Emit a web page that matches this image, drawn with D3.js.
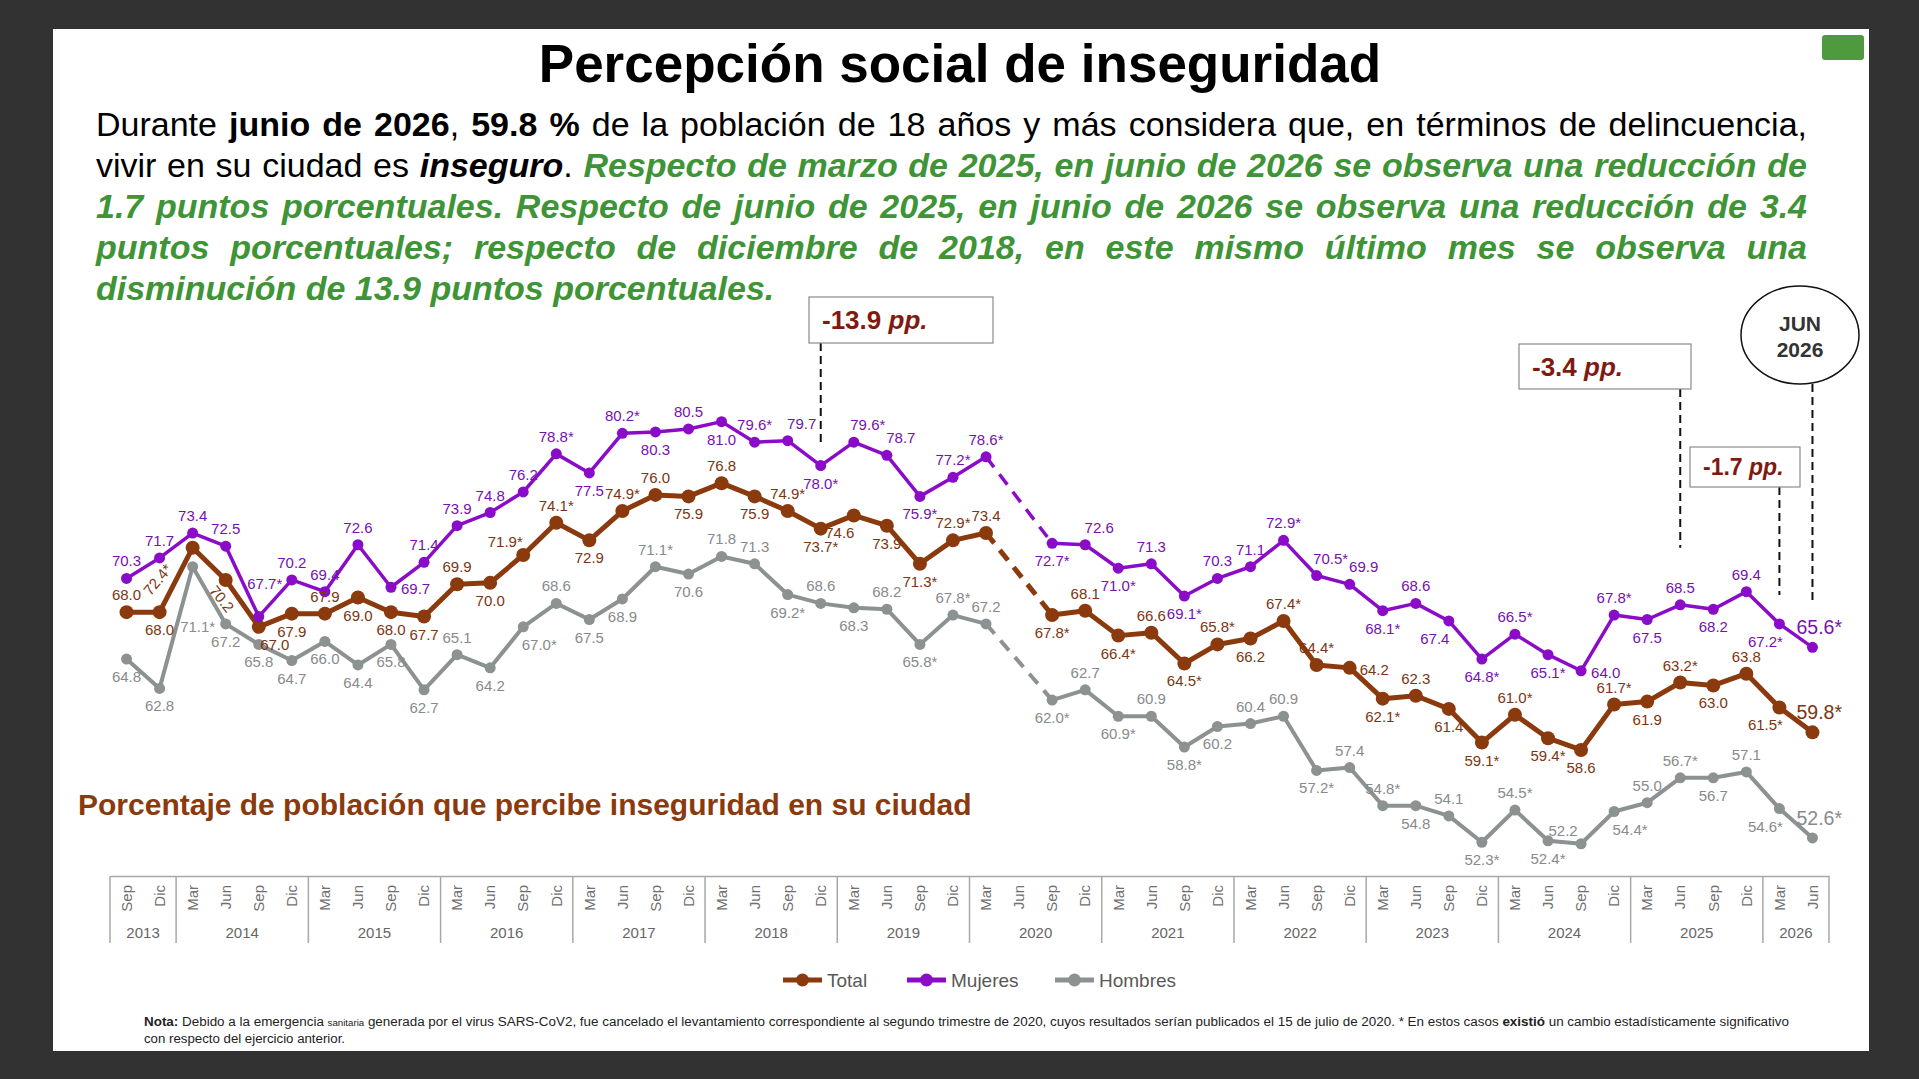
<!DOCTYPE html>
<html lang="es">
<head>
<meta charset="utf-8">
<title>Percepción social de inseguridad</title>
<script src="https://cdn.jsdelivr.net/npm/d3@7"></script>
<style>
  html, body { margin: 0; padding: 0; background: #323232; }
  body { width: 1919px; height: 1079px; position: relative; overflow: hidden; font-family: "Liberation Sans", Arial, sans-serif; }
  #slide { position: absolute; left: 53px; top: 29px; width: 1816px; height: 1022px; background: #fff; }
  #chart { position: absolute; left: 0; top: 0; }
  #intro { position: absolute; left: 96px; top: 104px; width: 1711px; font-size: 34px; line-height: 41px; color: #000; }
  #intro .line { white-space: nowrap; }
  #intro .g { color: #3e9436; font-weight: bold; font-style: italic; }
</style>
</head>
<body>
<div id="slide"></div>
<svg id="chart" width="1919" height="1079"></svg>
<div id="intro">
  <div class="line"><span class="in">Durante <b>junio de 2026</b>, <b>59.8 %</b> de la población de 18 años y más considera que, en términos de delincuencia,</span></div>
  <div class="line"><span class="in">vivir en su ciudad es <b><i>inseguro</i></b>. <span class="g">Respecto de marzo de 2025, en junio de 2026 se observa una reducción de</span></span></div>
  <div class="line"><span class="in g">1.7 puntos porcentuales. Respecto de junio de 2025, en junio de 2026 se observa una reducción de 3.4</span></div>
  <div class="line"><span class="in g">puntos porcentuales; respecto de diciembre de 2018, en este mismo último mes se observa una</span></div>
  <div class="line last"><span class="in g">disminución de 13.9 puntos porcentuales.</span></div>
</div>
<script>
// quarters of the survey (Jun 2020 was cancelled -> null values)
const monthNames = ['Mar', 'Jun', 'Sep', 'Dic'];
const years = [2013, 2014, 2015, 2016, 2017, 2018, 2019, 2020, 2021, 2022, 2023, 2024, 2025, 2026];

// percentage of population that feels unsafe in their city
const total = [68.0, 68.0, 72.4, 70.2, 67.0, 67.9, 67.9, 69.0, 68.0, 67.7,
  69.9, 70.0, 71.9, 74.1, 72.9, 74.9, 76.0, 75.9, 76.8, 75.9,
  74.9, 73.7, 74.6, 73.9, 71.3, 72.9, 73.4, null, 67.8, 68.1,
  66.4, 66.6, 64.5, 65.8, 66.2, 67.4, 64.4, 64.2, 62.1, 62.3,
  61.4, 59.1, 61.0, 59.4, 58.6, 61.7, 61.9, 63.2, 63.0, 63.8,
  61.5, 59.8];
const mujeres = [70.3, 71.7, 73.4, 72.5, 67.7, 70.2, 69.4, 72.6, 69.7, 71.4,
  73.9, 74.8, 76.2, 78.8, 77.5, 80.2, 80.3, 80.5, 81.0, 79.6,
  79.7, 78.0, 79.6, 78.7, 75.9, 77.2, 78.6, null, 72.7, 72.6,
  71.0, 71.3, 69.1, 70.3, 71.1, 72.9, 70.5, 69.9, 68.1, 68.6,
  67.4, 64.8, 66.5, 65.1, 64.0, 67.8, 67.5, 68.5, 68.2, 69.4,
  67.2, 65.6];
const hombres = [64.8, 62.8, 71.1, 67.2, 65.8, 64.7, 66.0, 64.4, 65.8, 62.7,
  65.1, 64.2, 67.0, 68.6, 67.5, 68.9, 71.1, 70.6, 71.8, 71.3,
  69.2, 68.6, 68.3, 68.2, 65.8, 67.8, 67.2, null, 62.0, 62.7,
  60.9, 60.9, 58.8, 60.2, 60.4, 60.9, 57.2, 57.4, 54.8, 54.8,
  54.1, 52.3, 54.5, 52.4, 52.2, 54.4, 55.0, 56.7, 56.7, 57.1,
  54.6, 52.6];

// quarters (by index) with a statistically significant change (*)
const totalStar = [2, 12, 13, 15, 20, 21, 24, 25, 28, 30, 32, 33, 35, 36, 38, 41, 42, 43, 45, 47, 50, 51];
const mujeresStar = [4, 13, 15, 19, 21, 22, 24, 25, 26, 28, 30, 32, 35, 36, 38, 41, 42, 43, 45, 50, 51];
const hombresStar = [2, 12, 16, 20, 24, 25, 28, 30, 32, 36, 38, 41, 42, 43, 45, 47, 50, 51];

// where each value label sits (see offsets below)
const totalPos = ('udABeduddd' + 'udyuduudud' + 'udwdduu-du' + 'dududuurdu' + 'dduddududu' + 'wF').split('');
const mujeresPos = ('uuuuUuuuru' + 'uuuudududu' + 'vdvvduu-dv' + 'duduuuvvdu' + 'wdudrududu' + 'wF').split('');
const hombresPos = ('ddDddddddd' + 'udeudduduu' + 'dududuu-du' + 'dudduuduud' + 'ududyeuudu' + 'wF').split('');

// callouts: change in pp. vs a past quarter
const callouts = [
  { text: '-13.9', quarter: 'Dic 2018', box: [809, 297, 184, 46], size: 26, gap: 21 },
  { text: '-3.4', quarter: 'Jun 2025', box: [1519, 344, 172, 45], size: 26, gap: 57 },
  { text: '-1.7', quarter: 'Mar 2026', box: [1690, 447, 110, 40], size: 23, gap: 29 }
];

const font = '"Liberation Sans", Arial, sans-serif';

// build the quarter keys Sep 2013 .. Jun 2026
let quarters = [];
years.forEach(yr => {
  monthNames.forEach((m, i) => {
    if (yr === 2013 && i < 2) return;
    if (yr === 2026 && i > 1) return;
    quarters.push(m + ' ' + yr);
  });
});

const svg = d3.select('#chart');

// little green tab in the corner of the slide
svg.append('rect')
  .attr('x', 1822).attr('y', 35).attr('width', 42).attr('height', 25)
  .attr('rx', 3).attr('fill', '#4f9a3f');

// title
svg.append('text')
  .attr('x', 960).attr('y', 82)
  .attr('text-anchor', 'middle')
  .attr('font-family', font)
  .attr('font-weight', 'bold')
  .attr('font-size', 53)
  .attr('fill', '#000')
  .text('Percepción social de inseguridad');

// scales
const x = d3.scaleBand()
  .domain(quarters)
  .range([110, 1829]);
const y = d3.scaleLinear()
  .domain([50, 85])
  .range([876, 363]);
const cx = k => x(k) + x.bandwidth() / 2;

// x axis (months rotated)
const xAxis = d3.axisBottom(x)
  .tickSize(0)
  .tickSizeOuter(0)
  .tickFormat(k => k.split(' ')[0]);

const gx = svg.append('g')
  .attr('class', 'xAxis')
  .attr('transform', 'translate(0, 876)')
  .call(xAxis);
gx.select('.domain').attr('stroke', '#a8a8a8').attr('stroke-width', 1.5);
gx.selectAll('text')
  .attr('transform', 'rotate(-90)')
  .attr('x', -9)
  .attr('y', 0)
  .attr('dy', '0.35em')
  .attr('text-anchor', 'end')
  .attr('font-family', font)
  .attr('font-size', 15)
  .attr('fill', '#707070');

// year groups
const yearGroups = years.map(yr => {
  const ks = quarters.filter(q => q.endsWith(String(yr)));
  return { year: yr, x0: x(ks[0]), x1: x(ks[ks.length - 1]) + x.bandwidth() };
});
const gy = svg.append('g').attr('class', 'years');
gy.selectAll('line')
  .data(yearGroups.map(g => g.x0).concat([x.range()[1]]))
  .enter()
  .append('line')
  .attr('x1', d => d).attr('x2', d => d)
  .attr('y1', 876).attr('y2', 943)
  .attr('stroke', '#a8a8a8').attr('stroke-width', 1.5);
gy.selectAll('text')
  .data(yearGroups)
  .enter()
  .append('text')
  .attr('x', d => (d.x0 + d.x1) / 2)
  .attr('y', 938)
  .attr('text-anchor', 'middle')
  .attr('font-family', font)
  .attr('font-size', 15)
  .attr('fill', '#666')
  .text(d => d.year);

// series
const series = [
  { name: 'Hombres', values: hombres, stars: hombresStar, pos: hombresPos, color: '#8c9191', label: '#878b8b', width: 4, r: 5.5 },
  { name: 'Total', values: total, stars: totalStar, pos: totalPos, color: '#8b3a0e', label: '#7c3511', width: 5, r: 7 },
  { name: 'Mujeres', values: mujeres, stars: mujeresStar, pos: mujeresPos, color: '#8a0cc8', label: '#7710b0', width: 3.5, r: 5.5 }
];

const line = d3.line()
  .defined(d => d.v != null)
  .x(d => cx(d.k))
  .y(d => y(d.v));

series.forEach(s => {
  const pts = quarters.map((k, i) => ({ k: k, v: s.values[i], i: i }));
  const g = svg.append('g').attr('class', 'series');

  g.append('path')
    .datum(pts)
    .attr('d', line)
    .attr('fill', 'none')
    .attr('stroke', s.color)
    .attr('stroke-width', s.width)
    .attr('stroke-linejoin', 'round');

  // dashed bridge over the missing quarter
  const gap = s.values.indexOf(null);
  g.append('path')
    .datum([pts[gap - 1], pts[gap + 1]])
    .attr('d', line)
    .attr('fill', 'none')
    .attr('stroke', s.color)
    .attr('stroke-width', s.width)
    .attr('stroke-dasharray', '13,9');

  g.selectAll('circle')
    .data(pts.filter(d => d.v != null))
    .enter()
    .append('circle')
    .attr('cx', d => cx(d.k))
    .attr('cy', d => y(d.v))
    .attr('r', s.r)
    .attr('fill', s.color);
});

// value labels: u above, U higher, v above-right, y above-left,
// d below, e below-right, w below-left, D far below, r right,
// A/B rotated along the line, F last value
const offsets = {
  u: { dx: 0, dy: -12, anchor: 'middle' },
  U: { dx: 6, dy: -28, anchor: 'middle' },
  v: { dx: 14, dy: -12, anchor: 'middle' },
  y: { dx: -18, dy: -8, anchor: 'middle' },
  d: { dx: 0, dy: 23, anchor: 'middle' },
  e: { dx: 16, dy: 23, anchor: 'middle' },
  w: { dx: -14, dy: 23, anchor: 'middle' },
  D: { dx: 5, dy: 65, anchor: 'middle' },
  r: { dx: 10, dy: 7, anchor: 'start' },
  A: { dx: -35, dy: 32, anchor: 'middle', rot: -50 },
  B: { dx: -4, dy: 19, anchor: 'middle', rot: 51 },
  F: { dx: -16, dy: -13, anchor: 'start', size: 19.5 }
};

series.forEach(s => {
  const pts = quarters.map((k, i) => ({ k: k, v: s.values[i], i: i }))
    .filter(d => d.v != null);
  svg.append('g')
    .attr('class', 'labels')
    .selectAll('text')
    .data(pts)
    .enter()
    .append('text')
    .each(function (d) {
      const o = offsets[s.pos[d.i]] || offsets.u;
      const t = d3.select(this);
      let tr = `translate(${cx(d.k) + o.dx}, ${y(d.v) + o.dy})`;
      if (o.rot) {
        tr += ` rotate(${o.rot})`;
        t.attr('dy', '0.35em');
      }
      t.attr('transform', tr)
        .attr('text-anchor', o.anchor)
        .attr('font-size', o.size || 15);
    })
    .attr('font-family', font)
    .attr('fill', s.label)
    .text(d => d.v.toFixed(1) + (s.stars.includes(d.i) ? '*' : ''));
});

// callout boxes with dashed leader lines
callouts.forEach(c => {
  const g = svg.append('g').attr('class', 'callout');
  const qi = quarters.indexOf(c.quarter);
  const [bx, by, bw, bh] = c.box;
  g.append('line')
    .attr('x1', cx(c.quarter)).attr('x2', cx(c.quarter))
    .attr('y1', by + bh).attr('y2', y(mujeres[qi]) - c.gap)
    .attr('stroke', '#111').attr('stroke-width', 2)
    .attr('stroke-dasharray', '8,5');
  g.append('rect')
    .attr('x', bx).attr('y', by).attr('width', bw).attr('height', bh)
    .attr('fill', '#fff').attr('stroke', '#8a8a8a').attr('stroke-width', 1.2);
  const t = g.append('text')
    .attr('x', bx + 13).attr('y', by + bh / 2 + c.size * 0.36)
    .attr('font-family', font)
    .attr('font-weight', 'bold')
    .attr('font-size', c.size)
    .attr('fill', '#7f1a10');
  t.append('tspan').text(c.text + ' ');
  t.append('tspan').attr('font-style', 'italic').text('pp.');
});

// JUN 2026 bubble
const lastQ = quarters[quarters.length - 1];
svg.append('line')
  .attr('x1', cx(lastQ)).attr('x2', cx(lastQ))
  .attr('y1', 384).attr('y2', y(mujeres[mujeres.length - 1]) - 44)
  .attr('stroke', '#111').attr('stroke-width', 2)
  .attr('stroke-dasharray', '8,5');
svg.append('ellipse')
  .attr('cx', 1800).attr('cy', 335).attr('rx', 59).attr('ry', 49)
  .attr('fill', '#fff').attr('stroke', '#111').attr('stroke-width', 1.5);
svg.append('text')
  .attr('x', 1800).attr('y', 331)
  .attr('text-anchor', 'middle')
  .attr('font-family', font).attr('font-weight', 'bold').attr('font-size', 21)
  .attr('fill', '#333')
  .text('JUN');
svg.append('text')
  .attr('x', 1800).attr('y', 357)
  .attr('text-anchor', 'middle')
  .attr('font-family', font).attr('font-weight', 'bold').attr('font-size', 21)
  .attr('fill', '#333')
  .text('2026');

// chart subtitle
svg.append('text')
  .attr('x', 78).attr('y', 815)
  .attr('font-family', font)
  .attr('font-weight', 'bold')
  .attr('font-size', 30)
  .attr('fill', '#8b3a0e')
  .text('Porcentaje de población que percibe inseguridad en su ciudad');

// legend
const legendX = [783, 907, 1055];
const legendOrder = ['Total', 'Mujeres', 'Hombres'];
const gl = svg.append('g').attr('class', 'legend');
legendOrder.forEach((name, i) => {
  const s = series.find(d => d.name === name);
  gl.append('line')
    .attr('x1', legendX[i]).attr('x2', legendX[i] + 39)
    .attr('y1', 980).attr('y2', 980)
    .attr('stroke', s.color).attr('stroke-width', 5);
  gl.append('circle')
    .attr('cx', legendX[i] + 19.5).attr('cy', 980).attr('r', 6.5)
    .attr('fill', s.color);
  gl.append('text')
    .attr('x', legendX[i] + 44).attr('y', 987)
    .attr('font-family', font).attr('font-size', 19)
    .attr('fill', '#595959')
    .text(name);
});

// note at the bottom
const noteFont = '"Liberation Sans Narrow", "Arial Narrow", "Liberation Sans", Arial, sans-serif';
const n1 = svg.append('text')
  .attr('x', 144).attr('y', 1026)
  .attr('font-family', noteFont).attr('font-size', 12.5)
  .attr('fill', '#222')
  .attr('textLength', 1645).attr('lengthAdjust', 'spacingAndGlyphs');
n1.append('tspan').attr('font-weight', 'bold').text('Nota:');
n1.append('tspan').text(' Debido a la emergencia ');
n1.append('tspan').attr('font-size', 9).text('sanitaria');
n1.append('tspan').text(' generada por el virus SARS-CoV2, fue cancelado el levantamiento correspondiente al segundo trimestre de 2020, cuyos resultados serían publicados el 15 de julio de 2020. * En estos casos   ');
n1.append('tspan').attr('font-weight', 'bold').text('existió');
n1.append('tspan').text(' un cambio estadísticamente significativo');
svg.append('text')
  .attr('x', 144).attr('y', 1043)
  .attr('font-family', noteFont).attr('font-size', 12.5)
  .attr('fill', '#222')
  .attr('textLength', 201).attr('lengthAdjust', 'spacingAndGlyphs')
  .text('con respecto del ejercicio anterior.');

// justify the intro lines by spreading the word gaps
d3.selectAll('#intro .line').each(function () {
  if (this.classList.contains('last')) return;
  const inner = this.querySelector('.in');
  const natural = inner.getBoundingClientRect().width;
  const spaces = (inner.textContent.trim().match(/ /g) || []).length;
  this.style.wordSpacing = ((1711 - natural) / spaces) + 'px';
});
</script>
</body>
</html>
